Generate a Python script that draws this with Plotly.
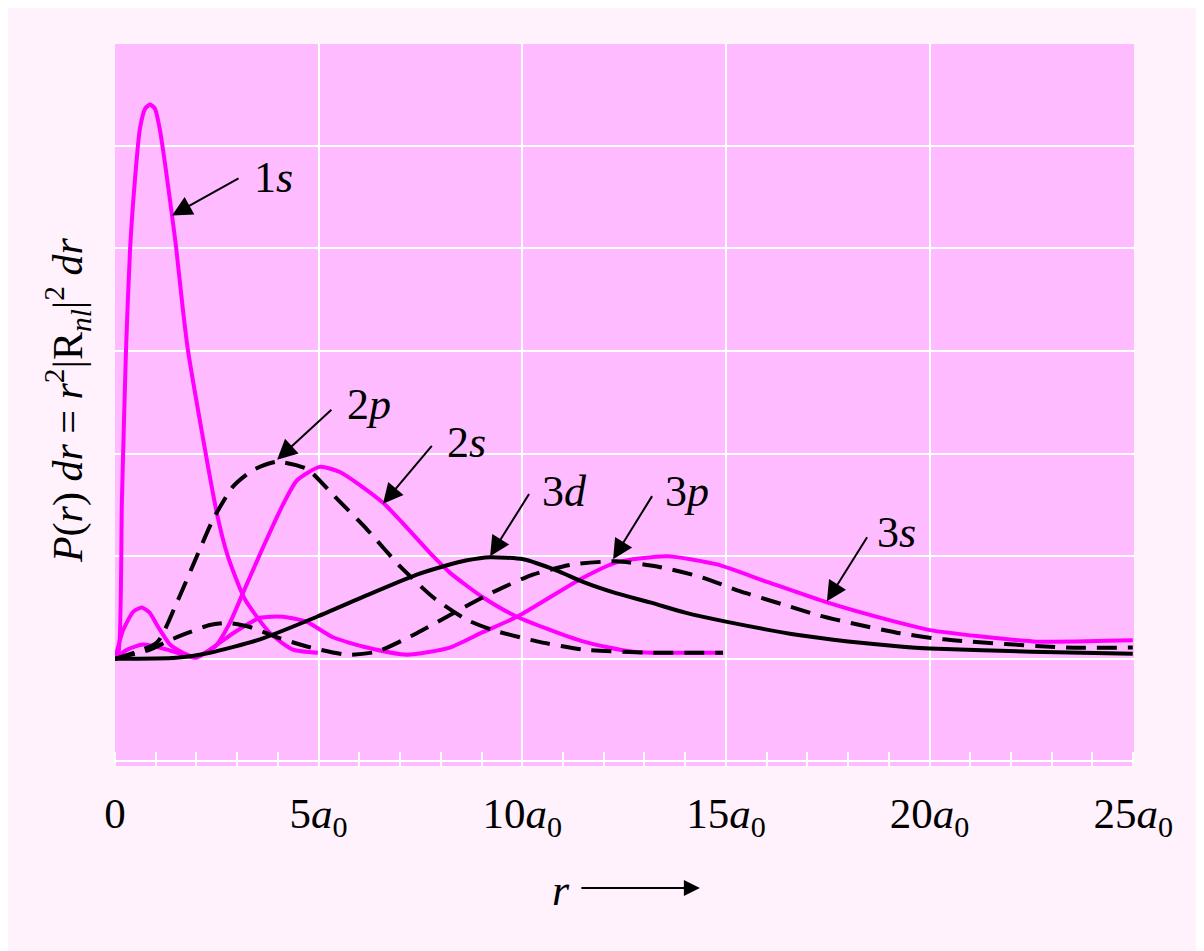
import plotly.graph_objects as go

# ---- data (r in units of a0, P in arbitrary units = gridline steps) ----
r_1s = [0, 0.07, 0.17, 0.27, 0.37, 0.49, 0.61, 0.74, 0.86, 0.98, 1.10, 1.23, 1.40, 1.50, 1.64, 1.79, 2.50, 2.77, 3.19, 3.81, 4.37, 4.98]
p_1s = [0, 0.01, 1.55, 3.01, 3.99, 4.67, 5.16, 5.36, 5.40, 5.36, 5.16, 4.82, 4.32, 4.01, 3.50, 3.01, 1.42, 1.00, 0.58, 0.25, 0.09, 0.06]

r_2s = [0, 0.2, 0.45, 0.66, 0.85, 1.06, 1.35, 1.67, 1.96, 2.46, 2.82, 3.14, 3.56, 4.12, 4.47, 5.03, 5.52, 6.58, 7.81, 8.22, 9.03, 9.87, 11.49, 12.72, 14.93]
p_2s = [0, 0.28, 0.46, 0.50, 0.45, 0.31, 0.14, 0.06, 0.02, 0.12, 0.35, 0.64, 1.02, 1.50, 1.74, 1.87, 1.82, 1.52, 1.00, 0.84, 0.60, 0.41, 0.17, 0.07, 0.06]

r_3s = [0, 0.3, 0.69, 1.28, 1.67, 2.0, 2.90, 3.56, 4.12, 4.71, 5.35, 6.19, 7.17, 8.22, 9.03, 9.87, 11.49, 12.32, 13.55, 14.78, 16.01, 17.48, 19.27, 20.01, 22.54, 24.99]
p_3s = [0, 0.09, 0.14, 0.09, 0.04, 0.01, 0.25, 0.40, 0.41, 0.36, 0.21, 0.11, 0.04, 0.11, 0.26, 0.41, 0.79, 0.94, 1.00, 0.92, 0.75, 0.55, 0.35, 0.28, 0.17, 0.18]

r_2p = [0, 1.03, 1.52, 2.01, 2.41, 2.90, 3.39, 3.98, 4.71, 5.35, 6.19, 7.00, 7.81, 8.64, 9.28, 10.36, 11.49, 13.14, 14.93]
p_2p = [0, 0.16, 0.55, 1.00, 1.36, 1.68, 1.84, 1.92, 1.85, 1.60, 1.26, 0.90, 0.60, 0.38, 0.28, 0.17, 0.09, 0.06, 0.06]

r_3p = [0, 0.86, 1.28, 1.77, 2.33, 2.75, 3.31, 3.98, 4.71, 5.70, 6.43, 7.41, 8.47, 9.28, 10.26, 11.24, 12.32, 13.31, 14.36, 15.34, 16.40, 17.31, 18.29, 19.27, 20.33, 23.37, 24.99]
p_3p = [0, 0.09, 0.17, 0.25, 0.33, 0.35, 0.31, 0.21, 0.12, 0.04, 0.07, 0.25, 0.48, 0.65, 0.82, 0.92, 0.95, 0.90, 0.80, 0.66, 0.53, 0.42, 0.33, 0.25, 0.19, 0.11, 0.11]

r_3d = [0, 1.5, 2.33, 3.56, 4.96, 6.19, 7.41, 8.05, 8.64, 9.21, 10.02, 10.85, 11.49, 12.30, 13.14, 14.00, 15.03, 16.82, 18.00, 19.27, 20.01, 22.50, 24.99]
p_3d = [0, 0.01, 0.06, 0.19, 0.41, 0.62, 0.82, 0.90, 0.96, 0.99, 0.97, 0.86, 0.75, 0.64, 0.55, 0.45, 0.36, 0.23, 0.17, 0.12, 0.10, 0.07, 0.05]

x_tick_vals = [0, 5, 10, 15, 20, 25]
x_tick_text = ["0", "5<i>a</i><sub>0</sub>", "10<i>a</i><sub>0</sub>", "15<i>a</i><sub>0</sub>",
               "20<i>a</i><sub>0</sub>", "25<i>a</i><sub>0</sub>"]

label_text = ["1<i>s</i>", "2<i>p</i>", "2<i>s</i>", "3<i>d</i>", "3<i>p</i>", "3<i>s</i>"]
label_x = [3.36, 5.65, 8.10, 10.43, 13.45, 18.66]
label_y = [4.69, 2.48, 2.11, 1.63, 1.63, 1.23]
arrow_tail_x = [3.07, 5.35, 7.81, 10.19, 13.21, 18.49]
arrow_tail_y = [4.69, 2.44, 2.09, 1.62, 1.60, 1.20]
arrow_head_x = [1.40, 3.98, 6.58, 9.21, 12.23, 17.48]
arrow_head_y = [4.32, 1.94, 1.51, 1.00, 0.97, 0.56]

MAG = "#FF00FF"
BLK = "#000000"
FONT = "Liberation Serif"

fig = go.Figure()

def add(r, p, color, dash):
    fig.add_trace(go.Scatter(x=r, y=p, mode="lines",
                             line=dict(color=color, width=4, dash=dash, shape="spline", smoothing=0.6),
                             hoverinfo="skip", showlegend=False))

add(r_1s, p_1s, MAG, "solid")
add(r_2s, p_2s, MAG, "solid")
add(r_3s, p_3s, MAG, "solid")
add(r_3d, p_3d, BLK, "solid")
add(r_2p, p_2p, BLK, "20px,11px")
add(r_3p, p_3p, BLK, "20px,11px")

for t, lx, ly, tx, ty, hx, hy in zip(label_text, label_x, label_y, arrow_tail_x, arrow_tail_y, arrow_head_x, arrow_head_y):
    fig.add_annotation(x=hx, y=hy, ax=tx, ay=ty, xref="x", yref="y", axref="x", ayref="y",
                       text="", showarrow=True, arrowhead=2, arrowsize=2.0, arrowwidth=2, arrowcolor="black")
    fig.add_annotation(x=lx, y=ly, xref="x", yref="y", text=t, showarrow=False,
                       xanchor="left", yanchor="middle", font=dict(family=FONT, size=44, color="black"))

# y-axis title
fig.add_annotation(x=-0.047, y=0.507, xref="paper", yref="paper", showarrow=False, textangle=-90,
                   text="<i>P</i>(<i>r</i>) <i>dr</i> = <i>r</i><sup>2</sup>|R<sub><i>nl</i></sub>|<sup>2</sup> <i>dr</i>",
                   font=dict(family=FONT, size=42, color="black"), xanchor="center", yanchor="middle")
# x-axis title "r ->"
fig.add_annotation(x=0.438, y=-0.172, xref="paper", yref="paper", showarrow=False,
                   text="<i>r</i>", font=dict(family=FONT, size=44, color="black"),
                   xanchor="center", yanchor="middle")
fig.add_annotation(x=0.574, y=-0.169, xref="paper", yref="paper", ax=-120, ay=0,
                   text="", showarrow=True, arrowhead=2, arrowsize=1.6, arrowwidth=2, arrowcolor="black")

fig.update_layout(
    width=1196, height=943,
    margin=dict(l=107, r=70, t=36, b=185),
    paper_bgcolor="#FFF2FD",
    plot_bgcolor="#FFBBFF",
    showlegend=False,
    xaxis=dict(range=[0, 25.02], tickvals=x_tick_vals, ticktext=x_tick_text,
               showgrid=True, gridcolor="white", gridwidth=2, zeroline=False, showline=False,
               ticks="", ticklabelstandoff=18,
               tickfont=dict(family=FONT, size=43, color="black"),
               minor=dict(dtick=1, ticks="inside", ticklen=14, tickcolor="white", tickwidth=2, showgrid=False)),
    yaxis=dict(range=[-1.044, 5.99], dtick=1, showticklabels=False, showgrid=True,
               gridcolor="white", gridwidth=2, zeroline=False, showline=False, ticks=""),
)

fig.write_html("out.html")
